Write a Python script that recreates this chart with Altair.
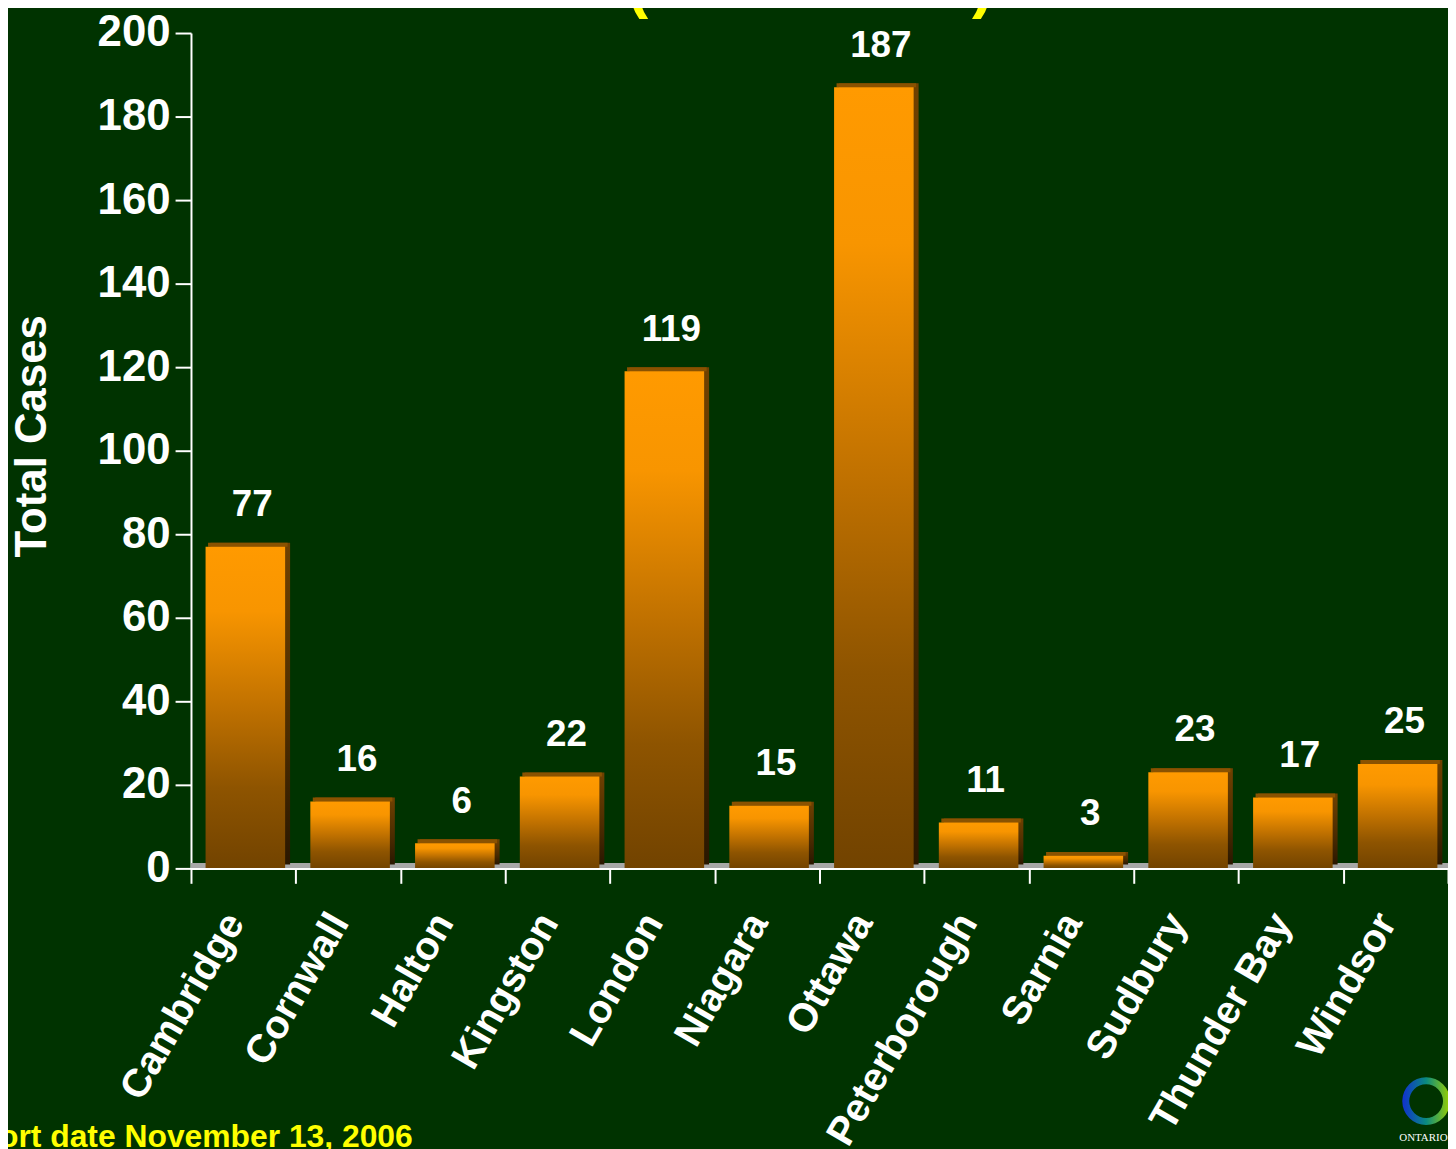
import altair as alt
import pandas as pd

# ---- data -------------------------------------------------------------
units = ["Cambridge", "Cornwall", "Halton", "Kingston", "London", "Niagara",
         "Ottawa", "Peterborough", "Sarnia", "Sudbury", "Thunder Bay", "Windsor"]
cases = [77, 16, 6, 22, 119, 15, 187, 11, 3, 23, 17, 25]
y_ticks = [0, 20, 40, 60, 80, 100, 120, 140, 160, 180, 200]
footer = "Report date November 13, 2006"

df = pd.DataFrame({"unit": units, "cases": cases})
deco = pd.DataFrame({"k": [0]})

FONT = "Liberation Sans"
BG = "#003300"

x_enc = alt.X(
    "unit:N", sort=units,
    scale=alt.Scale(paddingInner=0, paddingOuter=0),
    axis=alt.Axis(
        title=None, labelAngle=-60, labelAlign="right", labelBaseline="middle",
        labelFont=FONT, labelFontSize=40, labelFontWeight="bold", labelColor="white",
        labelPadding=33, labelOffset=-9, labelLimit=500, labelOverlap=False,
        tickBand="extent", tickSize=15, tickColor="white", tickWidth=2,
        domainColor="white", domainWidth=2, zindex=1,
    ),
)
y_enc = alt.Y(
    "cases:Q",
    scale=alt.Scale(domain=[0, 200], nice=False),
    axis=alt.Axis(
        values=y_ticks, format="d", grid=False,
        title="Total Cases", titleFont=FONT, titleFontSize=44, titleFontWeight="bold",
        titleColor="white", titleAngle=-90, titleX=-146, titleY=405,
        titleAlign="center", titleBaseline="alphabetic",
        labelFont=FONT, labelFontSize=44, labelFontWeight="bold", labelColor="white",
        labelPadding=5, labelFlush=False,
        tickSize=16, tickColor="white", tickWidth=2,
        domainColor="white", domainWidth=2,
    ),
)

base = alt.Chart(df)

front_grad = alt.Gradient(
    gradient="linear", x1=0, x2=0, y1=0, y2=1,
    stops=[
        alt.GradientStop(color="#FF9A00", offset=0),
        alt.GradientStop(color="#F89500", offset=0.2),
        alt.GradientStop(color="#C07100", offset=0.5),
        alt.GradientStop(color="#8E5400", offset=0.75),
        alt.GradientStop(color="#724300", offset=1),
    ],
)
side_grad = alt.Gradient(
    gradient="linear", x1=0, x2=0, y1=0, y2=1,
    stops=[
        alt.GradientStop(color="#704100", offset=0),
        alt.GradientStop(color="#4A2B00", offset=0.6),
        alt.GradientStop(color="#2A1700", offset=1),
    ],
)

floor = base.mark_rule(color="#a8a8a8", strokeWidth=4, yOffset=-3).encode(
    y=alt.datum(0)
)

side = base.mark_bar(size=80, xOffset=7, yOffset=-4, y2Offset=-4, fill=side_grad).encode(
    x=x_enc, y=y_enc, y2=alt.datum(0)
)

top = base.mark_bar(size=80, xOffset=4.5, yOffset=-4, y2Offset=0, fill="#8A5200").encode(
    x=x_enc, y=y_enc, y2="cases:Q"
)

front = base.mark_bar(size=80, xOffset=2, fill=front_grad).encode(
    x=x_enc, y=y_enc
)

values = base.mark_text(
    dx=9, dy=-31, baseline="alphabetic", font=FONT, fontSize=37,
    fontWeight="bold", color="white",
).encode(x=x_enc, y=y_enc, text="cases:Q")

foot = alt.Chart(deco).mark_text(
    text=footer, align="right", baseline="alphabetic", font=FONT,
    fontSize=32, fontWeight="bold", color="#FFFF00",
).encode(x=alt.value(223), y=alt.value(1120))

paren_l = alt.Chart(deco).mark_text(
    text="(", align="center", baseline="alphabetic", font=FONT,
    fontSize=64, fontWeight="bold", color="#FFFF00",
).encode(x=alt.value(449), y=alt.value(-27))

paren_r = alt.Chart(deco).mark_text(
    text=")", align="center", baseline="alphabetic", font=FONT,
    fontSize=64, fontWeight="bold", color="#FFFF00",
).encode(x=alt.value(796), y=alt.value(-27))

logo_grad = alt.Gradient(
    gradient="linear", x1=0, x2=1, y1=0, y2=0,
    stops=[
        alt.GradientStop(color="#1030D0", offset=0),
        alt.GradientStop(color="#0A8A80", offset=0.5),
        alt.GradientStop(color="#9AD000", offset=1),
    ],
)
logo = alt.Chart(deco).mark_arc(
    theta=0, theta2=6.2832, radius=24, radius2=17, fill=logo_grad
).encode(x=alt.value(1242), y=alt.value(1074))

logo_txt = alt.Chart(deco).mark_text(
    text="ONTARIO", align="left", baseline="alphabetic", font="Liberation Serif",
    fontSize=11, color="white",
).encode(x=alt.value(1215), y=alt.value(1114))

chart = alt.layer(
    floor, side, top, front, values, foot, paren_l, paren_r, logo, logo_txt
).properties(
    width=1264, height=840,
    autosize=alt.AutoSizeParams(type="none"),
    padding={"left": 184, "top": 22, "right": 0, "bottom": 279},
).configure(background=BG).configure_view(stroke=None)

chart.save("out.html", embed_options={"renderer": "svg", "actions": False})
